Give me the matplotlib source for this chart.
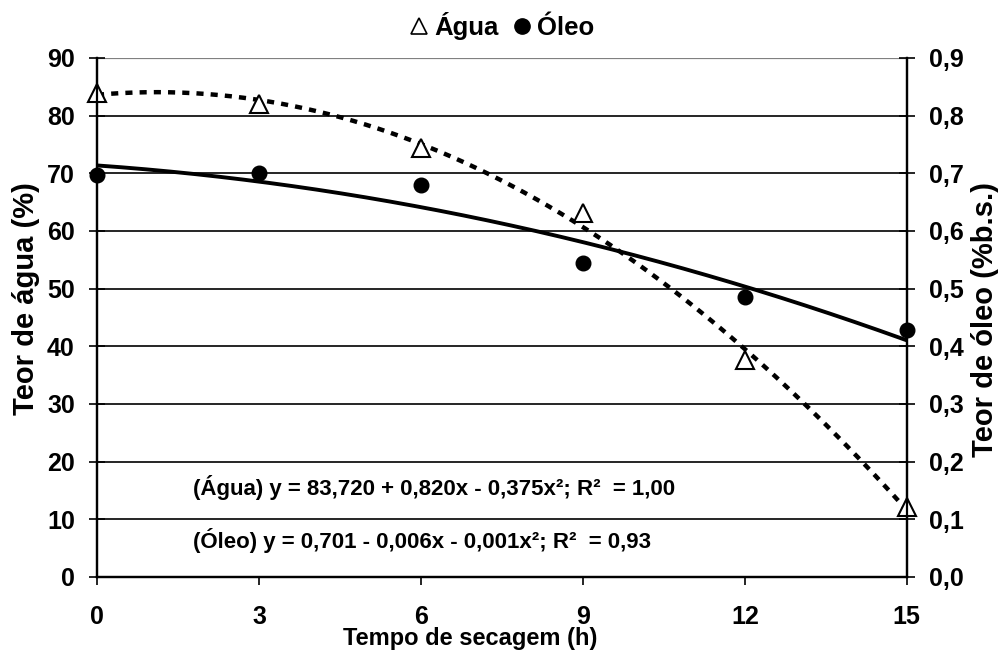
import numpy as np
import matplotlib
matplotlib.use("Agg")
import matplotlib.pyplot as plt
from matplotlib.lines import Line2D

plt.rcParams['font.family'] = ['Liberation Sans', 'DejaVu Sans']
plt.rcParams['font.weight'] = 'bold'

# dados
tempo = [0, 3, 6, 9, 12, 15]
agua = [84.0, 82.0, 74.4, 63.1, 37.6, 12.1]
oleo = [0.697, 0.700, 0.680, 0.544, 0.486, 0.428]
yticks_agua = [0, 10, 20, 30, 40, 50, 60, 70, 80, 90]
yticks_oleo = [0.0, 0.1, 0.2, 0.3, 0.4, 0.5, 0.6, 0.7, 0.8, 0.9]
eq_agua = "(Água) y = 83,720 + 0,820x - 0,375x²; R²  = 1,00"
eq_oleo = "(Óleo) y = 0,701 - 0,006x - 0,001x²; R²  = 0,93"

fig = plt.figure(figsize=(10.01, 6.57), dpi=100)
ax = fig.add_axes([0.0969, 0.1218, 0.809, 0.79])
ax2 = ax.twinx()

# linhas de tendencia (ajuste polinomial de 2o grau)
xf = np.linspace(0, 15, 200)
pa = np.polyfit(tempo, agua, 2)
po = np.polyfit(tempo, oleo, 2)
ax.plot(xf, np.polyval(pa, xf), color='black', lw=3.2, ls=(0, (1.6, 1.6)), zorder=3)
ax2.plot(xf, np.polyval(po, xf), color='black', lw=2.8, zorder=3)

ax.plot(tempo, agua, ls='none', marker='^', ms=12.5, mfc='white', mec='black', mew=1.5, zorder=4, clip_on=False)
ax2.plot(tempo, oleo, ls='none', marker='o', ms=10.5, color='black', zorder=4, clip_on=False)

ax.set_xlim(0, 15)
ax.set_ylim(0, 90)
ax2.set_ylim(0, 0.9)
ax.set_xticks(tempo)
ax.set_yticks(yticks_agua)
ax2.set_yticks(yticks_oleo)
ax2.set_yticklabels([f"{v:.1f}".replace('.', ',') for v in yticks_oleo])

for v in yticks_agua[1:-1]:
    ax.axhline(v, color='black', lw=1.2, zorder=1)
ax.axhline(90, color='gray', lw=1.6, zorder=1)

for a in (ax, ax2):
    a.spines['top'].set_visible(False)
    for s in a.spines.values():
        s.set_linewidth(1.6)
ax.tick_params(axis='y', direction='inout', length=12, width=1.2, labelsize=18, pad=10)
ax2.tick_params(axis='y', direction='inout', length=12, width=1.2, labelsize=18, pad=10)
ax.tick_params(axis='x', direction='out', length=6, width=1.2, labelsize=18, pad=14)

fig.text(0.47, 0.028, "Tempo de secagem (h)", ha='center', va='center', fontsize=17, fontweight='bold')
fig.text(0.026, 0.546, "Teor de água (%)", ha='center', va='center', rotation=90, fontsize=21, fontweight='bold')
fig.text(0.984, 0.513, "Teor de óleo (%b.s.)", ha='center', va='center', rotation=90, fontsize=21, fontweight='bold')

ax.text(0.119, 0.173, eq_agua, transform=ax.transAxes, fontsize=16, fontweight='bold', va='center')
ax.text(0.119, 0.071, eq_oleo, transform=ax.transAxes, fontsize=16, fontweight='bold', va='center')

handles = [Line2D([], [], ls='none', marker='^', ms=12, mfc='white', mec='black', mew=1.2),
           Line2D([], [], ls='none', marker='o', ms=11, color='black')]
fig.legend(handles, ["Água", "Óleo"], loc='center', bbox_to_anchor=(0.5, 0.96), ncol=2,
           frameon=False, fontsize=18.5, handletextpad=0.1, columnspacing=0.4, handlelength=1.0)

fig.savefig("out.png", dpi=100)
